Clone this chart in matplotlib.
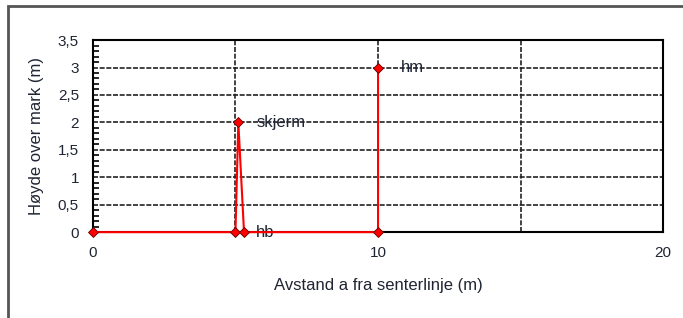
import matplotlib.pyplot as plt
from matplotlib.patches import Rectangle
from matplotlib.ticker import MultipleLocator, FuncFormatter

plt.rcParams['font.family'] = ['Liberation Sans', 'DejaVu Sans']

# profile points: distance from centre line and height above ground
avstand = [0, 5, 5.1, 5.3, 10, 10]
hoyde = [0, 0, 2, 0, 0, 3]

# point labels
labels = ["skjerm", "hb", "hm"]
label_x = [5.75, 5.7, 10.8]
label_y = [2, 0, 3]

txt = "#1f2533"

fig = plt.figure(figsize=(6.83, 3.18), dpi=100)
ax = fig.add_axes([0.136, 0.270, 0.835, 0.604])

# outer frame (runs off the right and bottom edge)
fig.patches.append(Rectangle((8 / 683, -0.1), 1.2, 1 - 6 / 318 + 0.1,
                             transform=fig.transFigure, fill=False,
                             edgecolor="#555555", linewidth=2))

ax.plot(avstand, hoyde, color="red", linewidth=1.5, marker="D", markersize=5,
        markerfacecolor="red", markeredgecolor="#600000", markeredgewidth=0.6,
        clip_on=False, zorder=5)

for t, x, y in zip(labels, label_x, label_y):
    ax.text(x, y, t, fontsize=12, color=txt, va="center", ha="left")

ax.set_xlim(0, 20)
ax.set_ylim(0, 3.5)
ax.xaxis.set_major_locator(MultipleLocator(10))
ax.xaxis.set_minor_locator(MultipleLocator(5))
ax.yaxis.set_major_locator(MultipleLocator(0.5))
ax.yaxis.set_minor_locator(MultipleLocator(0.1))
ax.yaxis.set_major_formatter(FuncFormatter(lambda v, p: f"{v:g}".replace(".", ",")))

ax.grid(True, which="major", axis="y", color="#222222", linestyle=(0, (3, 1)), linewidth=1.2)
ax.grid(True, which="both", axis="x", color="#222222", linestyle=(0, (3, 1)), linewidth=1.2)

ax.tick_params(axis="x", which="both", length=0, pad=10, labelsize=11, labelcolor=txt)
ax.tick_params(axis="y", which="major", direction="in", length=0, pad=10,
               labelsize=11, labelcolor=txt)
ax.tick_params(axis="y", which="minor", direction="in", length=4, width=1.2)

for s in ax.spines.values():
    s.set_linewidth(1.5)
    s.set_color("black")

ax.set_xlabel("Avstand a fra senterlinje (m)", fontsize=12, color=txt, labelpad=13)
ax.set_ylabel("Høyde over mark (m)", fontsize=12, color=txt, labelpad=10)

fig.savefig("out.png", dpi=100)
